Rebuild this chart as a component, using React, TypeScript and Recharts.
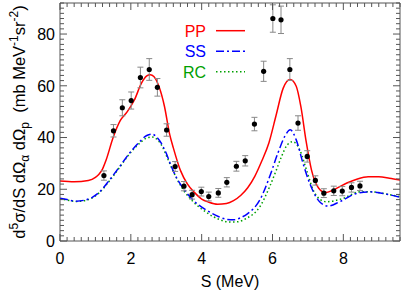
import React from "react";
import {
  ComposedChart,
  Line,
  Scatter,
  ErrorBar,
  XAxis,
  YAxis,
  Legend,
} from "recharts";

// ================= DATA =================
// measured points
const S_EXP = [1.24, 1.51, 1.76, 2.01, 2.27, 2.52, 2.75, 3.01, 3.25, 3.5, 3.73, 3.99, 4.2, 4.47, 4.71, 4.98, 5.23, 5.49, 5.75, 6.01, 6.24, 6.49, 6.72, 6.98, 7.21, 7.45, 7.73, 7.97, 8.23, 8.47];
const SIG_EXP = [25.3, 42.6, 51.5, 54.3, 63.2, 66.3, 59.4, 42.9, 28.8, 21.2, 17.9, 19.1, 17.2, 18.6, 22.7, 28.9, 31.0, 45.2, 65.6, 86.0, 85.5, 66.3, 45.6, 32.7, 23.4, 18.5, 19.4, 19.3, 20.7, 21.3];
const ERR_EXP = [1.8, 2.4, 3.1, 3.3, 4.0, 4.2, 3.4, 2.4, 1.9, 1.8, 1.7, 1.7, 1.7, 1.7, 1.8, 1.9, 2.0, 2.6, 3.9, 5.3, 5.3, 4.2, 2.8, 2.2, 1.8, 1.7, 1.8, 1.8, 1.8, 1.8];

// PP curve
const S_PP = [0, 0.4, 0.8, 1.0, 1.1, 1.2, 1.3, 1.5, 1.7, 1.9, 2.1, 2.3, 2.45, 2.55, 2.65, 2.8, 2.95, 3.1, 3.2, 3.4, 3.6, 3.8, 4.0, 4.2, 4.45, 4.7, 4.9, 5.1, 5.3, 5.5, 5.7, 5.9, 6.1, 6.3, 6.5, 6.67, 6.8, 6.95, 7.1, 7.3, 7.5, 7.7, 7.9, 8.1, 8.4, 8.7, 9.0, 9.3, 9.6];
const PP = [23.2, 22.9, 23.4, 24.6, 25.8, 27.8, 31.2, 40.0, 46.5, 50.0, 54.5, 61.0, 63.8, 64.3, 63.6, 59.5, 52.0, 41.0, 36.0, 27.3, 22.0, 18.7, 16.2, 15.0, 14.2, 14.5, 15.6, 17.6, 20.6, 25.0, 31.0, 38.0, 48.5, 59.0, 62.4, 59.8, 52.0, 38.5, 27.5, 20.5, 18.7, 19.6, 21.0, 22.4, 24.0, 24.8, 24.8, 24.3, 23.6];

// SS curve
const S_SS = [0, 0.2, 0.46, 0.7, 0.9, 1.12, 1.4, 1.68, 1.96, 2.25, 2.45, 2.6, 2.72, 2.85, 3.0, 3.15, 3.3, 3.5, 3.76, 4.14, 4.5, 4.7, 4.9, 5.1, 5.3, 5.64, 5.92, 6.15, 6.35, 6.5, 6.67, 6.86, 7.05, 7.33, 7.57, 7.9, 8.37, 8.74, 9.22, 9.6];
const SS = [16.5, 16.0, 15.4, 15.8, 16.8, 19.0, 23.6, 28.7, 33.9, 38.4, 40.8, 41.3, 40.3, 38.0, 33.9, 28.6, 24.2, 20.0, 15.8, 11.9, 9.3, 8.4, 8.2, 9.0, 10.6, 15.8, 24.9, 33.9, 40.5, 43.0, 39.1, 30.1, 22.3, 15.2, 13.5, 15.2, 18.4, 19.0, 18.1, 16.9];

// RC curve
const S_RC = [0, 0.2, 0.46, 0.7, 0.9, 1.12, 1.4, 1.68, 1.96, 2.25, 2.45, 2.6, 2.75, 2.9, 3.05, 3.3, 3.5, 3.76, 4.14, 4.5, 4.8, 5.0, 5.26, 5.64, 5.92, 6.11, 6.25, 6.4, 6.57, 6.77, 6.96, 7.15, 7.35, 7.52, 8.0, 8.46, 8.8, 9.2, 9.6];
const RC = [16.3, 15.8, 15.3, 15.6, 16.6, 18.8, 23.3, 28.4, 33.6, 37.8, 39.8, 40.2, 39.2, 36.2, 31.5, 24.0, 19.4, 15.2, 11.0, 8.3, 7.3, 7.4, 8.7, 13.2, 21.0, 27.5, 32.5, 36.8, 38.4, 35.2, 27.5, 19.7, 16.0, 15.2, 16.5, 19.0, 19.0, 18.2, 17.1];

// axes
const X_LABELS = [0, 2, 4, 6, 8];
const Y_LABELS = [0, 20, 40, 60, 80];
const X_MAX = 9.6;
const Y_MAX = 92;
const LEGEND_ORDER = ["PP", "SS", "RC"];

const zip = (xs: number[], ys: number[]) => xs.map((s, i) => ({ s, v: ys[i] }));

const expData = S_EXP.map((s, i) => ({ s, v: SIG_EXP[i], err: ERR_EXP[i] }));
const ppData = zip(S_PP, PP);
const ssData = zip(S_SS, SS);
const rcData = zip(S_RC, RC);

const xTicks = Array.from({ length: 49 }, (_, i) => Math.round(i * 2) / 10);
const yTicks = Array.from({ length: 47 }, (_, i) => i * 2);

const FRAME = "#555";
const FONT = "'Liberation Sans', Arial, Helvetica, sans-serif";

const styles: Record<string, { color: string; dash?: string; width: number }> = {
  PP: { color: "#ff0000", width: 1.5 },
  SS: { color: "#0000ff", dash: "8 3 2 3", width: 1.5 },
  RC: { color: "#00a000", dash: "1.5 2.5", width: 1.5 },
};

const isLabel = (v: number, labels: number[]) => labels.some((l) => Math.abs(l - v) < 1e-6);

// ================= TICKS =================
function BottomTick({ x, y, payload }: any) {
  const major = isLabel(payload.value, X_LABELS);
  return (
    <g>
      <line x1={x} x2={x} y1={y} y2={y - (major ? 7 : 4)} stroke={FRAME} />
      {major && (
        <text x={x} y={y + 23} textAnchor="middle" fontSize={16} fill="#000">
          {payload.value}
        </text>
      )}
    </g>
  );
}

function TopTick({ x, y, payload }: any) {
  const major = isLabel(payload.value, X_LABELS);
  return <line x1={x} x2={x} y1={y} y2={y + (major ? 7 : 4)} stroke={FRAME} />;
}

function LeftTick({ x, y, payload }: any) {
  const major = isLabel(payload.value, Y_LABELS);
  return (
    <g>
      <line x1={x} x2={x + (major ? 7 : 4)} y1={y} y2={y} stroke={FRAME} />
      {major && (
        <text x={x - 5} y={y + 5.8} textAnchor="end" fontSize={16} fill="#000">
          {payload.value}
        </text>
      )}
    </g>
  );
}

function RightTick({ x, y, payload }: any) {
  const major = isLabel(payload.value, Y_LABELS);
  return <line x1={x} x2={x - (major ? 7 : 4)} y1={y} y2={y} stroke={FRAME} />;
}

// ================= LABELS =================
function YTitle({ viewBox }: any) {
  const cx = viewBox.x + viewBox.width - 35.5;
  const cy = viewBox.y + viewBox.height / 2;
  return (
    <text
      x={cx}
      y={cy}
      transform={`rotate(-90 ${cx} ${cy})`}
      textAnchor="middle"
      fontSize={16.5}
      fill="#000"
    >
      d<tspan dy={-6.5} fontSize={12}>5</tspan>
      <tspan dy={6.5}>σ/dS dΩ</tspan>
      <tspan dy={4} fontSize={12}>α</tspan>
      <tspan dy={-4}> dΩ</tspan>
      <tspan dy={4} fontSize={12}>p</tspan>
      <tspan dy={-4}>{"\u00a0\u00a0(mb MeV"}</tspan>
      <tspan dy={-6.5} fontSize={12}>-1</tspan>
      <tspan dy={6.5}>sr</tspan>
      <tspan dy={-6.5} fontSize={12}>-2</tspan>
      <tspan dy={6.5}>)</tspan>
    </text>
  );
}

function XTitle({ viewBox }: any) {
  return (
    <text
      x={viewBox.x + viewBox.width / 2}
      y={viewBox.y + 46}
      textAnchor="middle"
      fontSize={16}
      fill="#000"
    >
      S (MeV)
    </text>
  );
}

function renderLegend() {
  return (
    <svg width={100} height={66} style={{ display: "block" }}>
      {LEGEND_ORDER.map((name, i) => {
        const st = styles[name];
        return (
          <g key={name}>
            <text x={56} y={22.5 + i * 20.5} textAnchor="end" fontSize={16} fill={st.color} fontFamily={FONT}>
              {name}
            </text>
            <line
              x1={66}
              x2={95}
              y1={16.7 + i * 20.5}
              y2={16.7 + i * 20.5}
              stroke={st.color}
              strokeWidth={st.width}
              strokeDasharray={st.dash}
            />
          </g>
        );
      })}
    </svg>
  );
}

function Dot({ cx, cy }: any) {
  return <circle cx={cx} cy={cy} r={2.6} fill="#000" />;
}

// ================= UI =================
export default function App() {
  return (
    <div style={{ width: 420, height: 294, fontFamily: FONT, background: "#fff" }}>
      <style>{"body{margin:0}"}</style>
      <ComposedChart
        width={420}
        height={294}
        margin={{ top: 2, right: 19, bottom: 52, left: 59 }}
        style={{ fontFamily: FONT }}
      >
        <XAxis
          xAxisId="b"
          dataKey="s"
          type="number"
          domain={[0, X_MAX]}
          ticks={xTicks}
          interval={0}
          height={1}
          tickSize={0}
          tickMargin={0}
          tickLine={false}
          tick={(p: any) => <BottomTick {...p} />}
          axisLine={{ stroke: FRAME }}
          allowDataOverflow
          label={(p: any) => <XTitle {...p} />}
        />
        <XAxis
          xAxisId="t"
          orientation="top"
          dataKey="s"
          type="number"
          domain={[0, X_MAX]}
          ticks={xTicks}
          interval={0}
          height={1}
          tickSize={0}
          tickMargin={0}
          tickLine={false}
          tick={(p: any) => <TopTick {...p} />}
          axisLine={{ stroke: FRAME }}
          allowDataOverflow
        />
        <YAxis
          yAxisId="l"
          type="number"
          domain={[0, Y_MAX]}
          ticks={yTicks}
          interval={0}
          width={1}
          tickSize={0}
          tickMargin={0}
          tickLine={false}
          tick={(p: any) => <LeftTick {...p} />}
          axisLine={{ stroke: FRAME }}
          allowDataOverflow
          label={(p: any) => <YTitle {...p} />}
        />
        <YAxis
          yAxisId="r"
          orientation="right"
          type="number"
          domain={[0, Y_MAX]}
          ticks={yTicks}
          interval={0}
          width={1}
          tickSize={0}
          tickMargin={0}
          tickLine={false}
          tick={(p: any) => <RightTick {...p} />}
          axisLine={{ stroke: FRAME }}
          allowDataOverflow
        />
        <Legend
          layout="vertical"
          align="center"
          verticalAlign="middle"
          content={renderLegend}
          wrapperStyle={{ left: 150, top: 14, width: 100 }}
        />
        <Line
          xAxisId="b"
          yAxisId="l"
          data={rcData}
          dataKey="v"
          name="RC"
          type="monotone"
          stroke={styles.RC.color}
          strokeWidth={styles.RC.width}
          strokeDasharray={styles.RC.dash}
          dot={false}
          activeDot={false}
          isAnimationActive={false}
        />
        <Line
          xAxisId="b"
          yAxisId="l"
          data={ssData}
          dataKey="v"
          name="SS"
          type="monotone"
          stroke={styles.SS.color}
          strokeWidth={styles.SS.width}
          strokeDasharray={styles.SS.dash}
          dot={false}
          activeDot={false}
          isAnimationActive={false}
        />
        <Line
          xAxisId="b"
          yAxisId="l"
          data={ppData}
          dataKey="v"
          name="PP"
          type="monotone"
          stroke={styles.PP.color}
          strokeWidth={styles.PP.width}
          dot={false}
          activeDot={false}
          isAnimationActive={false}
        />
        <Scatter
          xAxisId="b"
          yAxisId="l"
          data={expData}
          dataKey="v"
          legendType="none"
          shape={Dot}
          isAnimationActive={false}
        >
          <ErrorBar dataKey="err" direction="y" width={3} stroke="#888" strokeWidth={1} />
        </Scatter>
      </ComposedChart>
    </div>
  );
}
